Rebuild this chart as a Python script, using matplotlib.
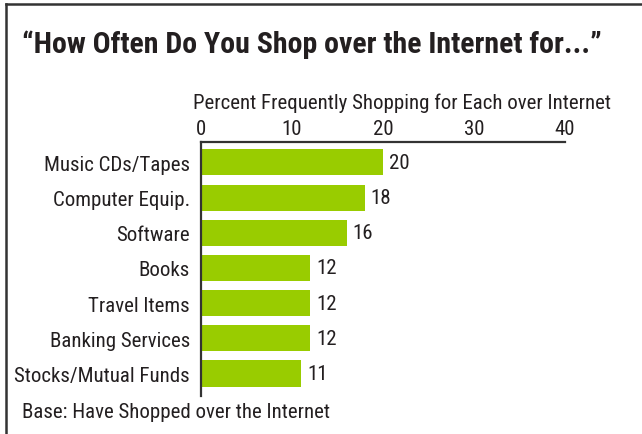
import matplotlib.pyplot as plt
from matplotlib.lines import Line2D

# Survey results: percent frequently shopping for each over the Internet
categories = ["Music CDs/Tapes", "Computer Equip.", "Software", "Books",
              "Travel Items", "Banking Services", "Stocks/Mutual Funds"]
percent = [20, 18, 16, 12, 12, 12, 11]
tick_values = [0, 10, 20, 30, 40]

FONT = ["Roboto Condensed", "Archivo Narrow", "DejaVu Sans"]
TEXT = "#231f20"
plt.rcParams['font.family'] = FONT

W, H = 642, 435
fig = plt.figure(figsize=(W / 100, H / 100), dpi=100)

def px(x0, y0, x1, y1):
    # pixel box -> figure fraction [left, bottom, width, height]
    return [x0 / W, 1 - y1 / H, (x1 - x0) / W, (y1 - y0) / H]

ax = fig.add_axes(px(201, 143, 565, 397))
ypos = list(range(len(categories)))
ax.barh(ypos, percent, height=0.74, color="#99cc00", zorder=2)
for y, v in zip(ypos, percent):
    ax.text(v + 0.65, y, str(v), va="center", ha="left", fontsize=15, color=TEXT)

ax.set_xlim(0, 40)
ax.set_ylim(6.64, -0.58)
ax.set_yticks(ypos)
ax.set_yticklabels(categories, fontsize=15, color=TEXT)
ax.set_xticks(tick_values)
ax.set_xticklabels([str(t) for t in tick_values], fontsize=15, color=TEXT)
ax.xaxis.tick_top()
ax.tick_params(axis="x", length=0, pad=3)
ax.tick_params(axis="y", length=0, pad=8)
for side in ("right", "bottom"):
    ax.spines[side].set_visible(False)
for side in ("left", "top"):
    ax.spines[side].set_color("#333333")
    ax.spines[side].set_linewidth(1.6)

fig.text(193 / W, 1 - 103 / H, "Percent Frequently Shopping for Each over Internet",
         fontsize=15, color=TEXT, va="center", ha="left")

fig.text(22 / W, 1 - 45 / H, "\u201cHow Often Do You Shop over the Internet for...\u201d",
         fontsize=21.5, fontweight="bold", color=TEXT, va="center", ha="left")

fig.text(22 / W, 1 - 413 / H, "Base: Have Shopped over the Internet",
         fontsize=15, color=TEXT, va="center", ha="left")

# frame: top rule and left rule
fig.add_artist(Line2D([6 / W, 1], [1 - 5 / H, 1 - 5 / H], color="#333333", lw=1.8))
fig.add_artist(Line2D([6 / W, 6 / W], [0, 1 - 5 / H], color="#333333", lw=1.8))

fig.savefig("out.png", dpi=100)
